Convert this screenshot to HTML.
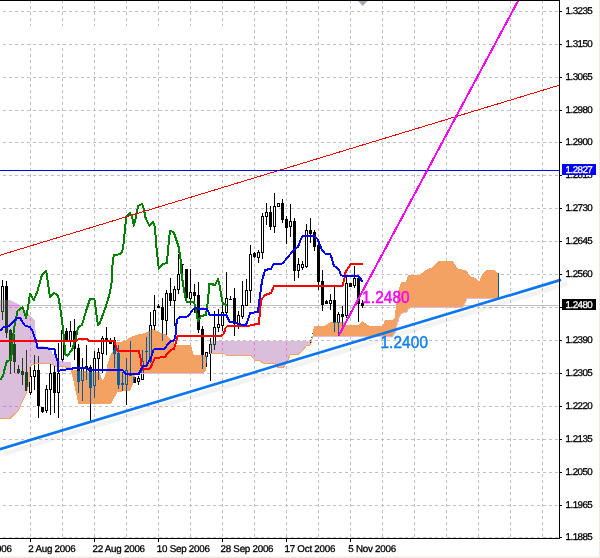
<!DOCTYPE html><html><head><meta charset="utf-8"><title>chart</title><style>
html,body{margin:0;padding:0;background:#fff}body{width:600px;height:558px;overflow:hidden;font-family:"Liberation Sans",sans-serif}
svg{display:block}text{font-family:"Liberation Sans",sans-serif}
.ax{font-size:9.8px;letter-spacing:-0.55px;fill:#000;stroke:#000;stroke-width:0.3px}.dt{font-size:9.8px;letter-spacing:-0.25px;fill:#000;stroke:#000;stroke-width:0.3px}.w{fill:#fff;stroke:#fff}
</style></head><body>
<svg width="600" height="558" viewBox="0 0 600 558">
<rect width="600" height="558" fill="#fff"/>
<defs><clipPath id="cp"><polygon points="0.0,300.0 9.4,300.0 12.5,301.0 18.8,304.4 22.0,307.5 25.0,311.0 30.0,316.0 35.0,320.0 35.5,330.0 36.0,341.0 37.5,346.0 50.0,347.0 52.5,354.0 56.0,354.0 57.0,361.0 70.6,362.0 71.0,367.5 70.0,367.5 55.0,366.0 50.0,363.5 36.0,363.5 30.0,366.0 29.4,380.0 28.0,387.5 26.2,393.8 20.6,405.0 18.8,410.0 10.6,418.0 0.0,418.0"/><polygon points="210.0,341.0 311.0,341.0 311.0,341.0 311.0,342.6 310.7,344.9 306.5,345.4 305.4,346.9 303.2,349.6 302.0,351.0 298.0,354.4 290.0,355.0 288.0,360.0 285.0,365.0 283.0,368.0 278.0,367.5 275.0,363.6 263.0,363.0 260.0,361.0 255.0,360.0 251.0,355.6 226.0,355.0 224.0,353.4 211.0,353.0 210.0,353.5"/></clipPath><clipPath id="co"><polygon points="71.0,370.0 100.0,372.5 100.0,374.0 102.8,381.0 105.6,374.0 107.5,364.0 111.0,354.0 113.8,350.0 116.0,342.5 125.0,341.0 128.8,338.0 136.0,335.0 145.0,333.0 153.0,329.0 158.8,332.0 165.0,334.0 170.0,338.8 173.8,342.5 176.0,345.0 190.6,345.0 192.0,348.8 193.8,355.0 207.0,355.0 207.5,356.0 206.0,366.0 205.6,371.0 203.0,373.0 136.0,373.0 133.5,383.0 130.0,390.6 117.5,392.0 111.0,403.8 78.0,403.8 77.5,400.0 75.6,391.0 73.8,382.5 71.0,371.0"/><polygon points="313.0,336.0 313.0,329.0 314.0,329.0 314.0,326.2 325.0,325.6 330.0,322.5 345.0,322.2 346.0,325.0 358.8,325.0 362.5,321.2 367.0,324.4 370.0,326.2 382.5,326.2 385.0,320.0 394.4,319.4 395.6,308.8 397.0,298.8 398.8,288.8 401.2,282.5 406.0,281.5 408.0,275.0 420.0,274.6 426.0,270.0 433.0,267.0 438.0,261.4 453.0,261.4 458.0,269.0 466.0,270.0 470.0,276.0 475.0,278.0 479.0,282.0 482.0,275.0 486.0,270.4 495.0,270.4 498.0,273.0 498.0,298.5 467.0,298.6 463.0,307.0 411.0,307.0 409.0,308.6 407.0,312.0 401.2,313.5 398.8,318.8 397.0,325.0 395.0,333.0 392.5,336.0"/></clipPath></defs>
<g stroke="#c0c0c0" stroke-width="1" shape-rendering="crispEdges" ><g stroke-dasharray="3 3">
<line x1="3" y1="11.5" x2="559" y2="11.5"/>
<line x1="3" y1="44.5" x2="559" y2="44.5"/>
<line x1="3" y1="77.5" x2="559" y2="77.5"/>
<line x1="3" y1="110.5" x2="559" y2="110.5"/>
<line x1="3" y1="142.5" x2="559" y2="142.5"/>
<line x1="3" y1="175.5" x2="559" y2="175.5"/>
<line x1="3" y1="208.5" x2="559" y2="208.5"/>
<line x1="3" y1="241.5" x2="559" y2="241.5"/>
<line x1="3" y1="274.5" x2="559" y2="274.5"/>
<line x1="3" y1="307.5" x2="559" y2="307.5"/>
<line x1="3" y1="340.5" x2="559" y2="340.5"/>
<line x1="3" y1="373.5" x2="559" y2="373.5"/>
<line x1="3" y1="406.5" x2="559" y2="406.5"/>
<line x1="3" y1="439.5" x2="559" y2="439.5"/>
<line x1="3" y1="472.5" x2="559" y2="472.5"/>
<line x1="3" y1="505.5" x2="559" y2="505.5"/>
<line x1="3" y1="537.5" x2="559" y2="537.5"/>
<line x1="30.5" y1="0" x2="30.5" y2="538"/>
<line x1="62.5" y1="0" x2="62.5" y2="538"/>
<line x1="94.5" y1="0" x2="94.5" y2="538"/>
<line x1="126.5" y1="0" x2="126.5" y2="538"/>
<line x1="158.5" y1="0" x2="158.5" y2="538"/>
<line x1="190.5" y1="0" x2="190.5" y2="538"/>
<line x1="222.5" y1="0" x2="222.5" y2="538"/>
<line x1="254.5" y1="0" x2="254.5" y2="538"/>
<line x1="286.5" y1="0" x2="286.5" y2="538"/>
<line x1="318.5" y1="0" x2="318.5" y2="538"/>
<line x1="350.5" y1="0" x2="350.5" y2="538"/>
<line x1="382.5" y1="0" x2="382.5" y2="538"/>
<line x1="414.5" y1="0" x2="414.5" y2="538"/>
<line x1="446.5" y1="0" x2="446.5" y2="538"/>
<line x1="478.5" y1="0" x2="478.5" y2="538"/>
<line x1="510.5" y1="0" x2="510.5" y2="538"/>
<line x1="542.5" y1="0" x2="542.5" y2="538"/>
</g>
<line x1="0" y1="305.5" x2="560" y2="305.5"/>
</g>
<rect x="0" y="26" width="246" height="18" fill="#fff"/>
<g stroke="rgb(255,192,255)" stroke-width="1" shape-rendering="crispEdges" clip-path="url(#cp)"><g stroke-dasharray="3 3">
<line x1="3" y1="11.5" x2="559" y2="11.5"/>
<line x1="3" y1="44.5" x2="559" y2="44.5"/>
<line x1="3" y1="77.5" x2="559" y2="77.5"/>
<line x1="3" y1="110.5" x2="559" y2="110.5"/>
<line x1="3" y1="142.5" x2="559" y2="142.5"/>
<line x1="3" y1="175.5" x2="559" y2="175.5"/>
<line x1="3" y1="208.5" x2="559" y2="208.5"/>
<line x1="3" y1="241.5" x2="559" y2="241.5"/>
<line x1="3" y1="274.5" x2="559" y2="274.5"/>
<line x1="3" y1="307.5" x2="559" y2="307.5"/>
<line x1="3" y1="340.5" x2="559" y2="340.5"/>
<line x1="3" y1="373.5" x2="559" y2="373.5"/>
<line x1="3" y1="406.5" x2="559" y2="406.5"/>
<line x1="3" y1="439.5" x2="559" y2="439.5"/>
<line x1="3" y1="472.5" x2="559" y2="472.5"/>
<line x1="3" y1="505.5" x2="559" y2="505.5"/>
<line x1="3" y1="537.5" x2="559" y2="537.5"/>
<line x1="30.5" y1="0" x2="30.5" y2="538"/>
<line x1="62.5" y1="0" x2="62.5" y2="538"/>
<line x1="94.5" y1="0" x2="94.5" y2="538"/>
<line x1="126.5" y1="0" x2="126.5" y2="538"/>
<line x1="158.5" y1="0" x2="158.5" y2="538"/>
<line x1="190.5" y1="0" x2="190.5" y2="538"/>
<line x1="222.5" y1="0" x2="222.5" y2="538"/>
<line x1="254.5" y1="0" x2="254.5" y2="538"/>
<line x1="286.5" y1="0" x2="286.5" y2="538"/>
<line x1="318.5" y1="0" x2="318.5" y2="538"/>
<line x1="350.5" y1="0" x2="350.5" y2="538"/>
<line x1="382.5" y1="0" x2="382.5" y2="538"/>
<line x1="414.5" y1="0" x2="414.5" y2="538"/>
<line x1="446.5" y1="0" x2="446.5" y2="538"/>
<line x1="478.5" y1="0" x2="478.5" y2="538"/>
<line x1="510.5" y1="0" x2="510.5" y2="538"/>
<line x1="542.5" y1="0" x2="542.5" y2="538"/>
</g>
<line x1="0" y1="305.5" x2="560" y2="305.5"/>
</g>
<g stroke="#fff" stroke-width="1" shape-rendering="crispEdges" clip-path="url(#co)"><g stroke-dasharray="3 3">
<line x1="3" y1="11.5" x2="559" y2="11.5"/>
<line x1="3" y1="44.5" x2="559" y2="44.5"/>
<line x1="3" y1="77.5" x2="559" y2="77.5"/>
<line x1="3" y1="110.5" x2="559" y2="110.5"/>
<line x1="3" y1="142.5" x2="559" y2="142.5"/>
<line x1="3" y1="175.5" x2="559" y2="175.5"/>
<line x1="3" y1="208.5" x2="559" y2="208.5"/>
<line x1="3" y1="241.5" x2="559" y2="241.5"/>
<line x1="3" y1="274.5" x2="559" y2="274.5"/>
<line x1="3" y1="307.5" x2="559" y2="307.5"/>
<line x1="3" y1="340.5" x2="559" y2="340.5"/>
<line x1="3" y1="373.5" x2="559" y2="373.5"/>
<line x1="3" y1="406.5" x2="559" y2="406.5"/>
<line x1="3" y1="439.5" x2="559" y2="439.5"/>
<line x1="3" y1="472.5" x2="559" y2="472.5"/>
<line x1="3" y1="505.5" x2="559" y2="505.5"/>
<line x1="3" y1="537.5" x2="559" y2="537.5"/>
<line x1="30.5" y1="0" x2="30.5" y2="538"/>
<line x1="62.5" y1="0" x2="62.5" y2="538"/>
<line x1="94.5" y1="0" x2="94.5" y2="538"/>
<line x1="126.5" y1="0" x2="126.5" y2="538"/>
<line x1="158.5" y1="0" x2="158.5" y2="538"/>
<line x1="190.5" y1="0" x2="190.5" y2="538"/>
<line x1="222.5" y1="0" x2="222.5" y2="538"/>
<line x1="254.5" y1="0" x2="254.5" y2="538"/>
<line x1="286.5" y1="0" x2="286.5" y2="538"/>
<line x1="318.5" y1="0" x2="318.5" y2="538"/>
<line x1="350.5" y1="0" x2="350.5" y2="538"/>
<line x1="382.5" y1="0" x2="382.5" y2="538"/>
<line x1="414.5" y1="0" x2="414.5" y2="538"/>
<line x1="446.5" y1="0" x2="446.5" y2="538"/>
<line x1="478.5" y1="0" x2="478.5" y2="538"/>
<line x1="510.5" y1="0" x2="510.5" y2="538"/>
<line x1="542.5" y1="0" x2="542.5" y2="538"/>
</g>
<line x1="0" y1="305.5" x2="560" y2="305.5"/>
</g>
<g shape-rendering="crispEdges" stroke="none">
<rect x="2" y="280" width="1" height="40" fill="#000"/>
<rect x="1" y="286" width="3" height="26" fill="#000"/><rect x="2" y="287" width="1" height="24" fill="#fff"/>
<rect x="6" y="281" width="1" height="57" fill="#000"/>
<rect x="5" y="286" width="3" height="47" fill="#000"/>
<rect x="10" y="329" width="1" height="45" fill="#000"/>
<rect x="9" y="330" width="3" height="31" fill="#000"/>
<rect x="14" y="334" width="1" height="39" fill="#000"/>
<rect x="13" y="344" width="3" height="18" fill="#000"/>
<rect x="18" y="365" width="1" height="9" fill="#000"/>
<rect x="17" y="369" width="3" height="4" fill="#000"/>
<rect x="22" y="358" width="1" height="27" fill="#000"/>
<rect x="21" y="371" width="3" height="4" fill="#000"/>
<rect x="26" y="350" width="1" height="42" fill="#000"/>
<rect x="25" y="372" width="3" height="19" fill="#000"/>
<rect x="30" y="367" width="1" height="28" fill="#000"/>
<rect x="29" y="376" width="3" height="17" fill="#000"/><rect x="30" y="377" width="1" height="15" fill="#fff"/>
<rect x="34" y="355" width="1" height="35" fill="#000"/>
<rect x="33" y="370" width="3" height="7" fill="#000"/><rect x="34" y="371" width="1" height="5" fill="#fff"/>
<rect x="38" y="356" width="1" height="62" fill="#000"/>
<rect x="37" y="370" width="3" height="36" fill="#000"/>
<rect x="42" y="407" width="1" height="6" fill="#000"/>
<rect x="41" y="407" width="3" height="5" fill="#000"/>
<rect x="46" y="385" width="1" height="28" fill="#000"/>
<rect x="45" y="389" width="3" height="22" fill="#000"/><rect x="46" y="390" width="1" height="20" fill="#fff"/>
<rect x="50" y="364" width="1" height="51" fill="#000"/>
<rect x="49" y="373" width="3" height="17" fill="#000"/><rect x="50" y="374" width="1" height="15" fill="#fff"/>
<rect x="54" y="366" width="1" height="47" fill="#000"/>
<rect x="53" y="372" width="3" height="21" fill="#000"/>
<rect x="58" y="343" width="1" height="75" fill="#000"/>
<rect x="57" y="373" width="3" height="20" fill="#000"/><rect x="58" y="374" width="1" height="18" fill="#fff"/>
<rect x="62" y="328" width="1" height="33" fill="#000"/>
<rect x="61" y="330" width="3" height="30" fill="#000"/><rect x="62" y="331" width="1" height="28" fill="#fff"/>
<rect x="66" y="328" width="1" height="13" fill="#000"/>
<rect x="65" y="331" width="3" height="10" fill="#000"/>
<rect x="70" y="321" width="1" height="26" fill="#000"/>
<rect x="69" y="331" width="3" height="10" fill="#000"/><rect x="70" y="332" width="1" height="8" fill="#fff"/>
<rect x="74" y="319" width="1" height="41" fill="#000"/>
<rect x="73" y="331" width="3" height="18" fill="#000"/>
<rect x="78" y="344" width="1" height="49" fill="#000"/>
<rect x="77" y="348" width="3" height="34" fill="#000"/>
<rect x="82" y="358" width="1" height="43" fill="#000"/>
<rect x="81" y="368" width="3" height="13" fill="#000"/><rect x="82" y="369" width="1" height="11" fill="#fff"/>
<rect x="86" y="345" width="1" height="35" fill="#000"/>
<rect x="85" y="366" width="3" height="2" fill="#000"/>
<rect x="90" y="365" width="1" height="56" fill="#000"/>
<rect x="89" y="367" width="3" height="21" fill="#000"/>
<rect x="94" y="351" width="1" height="47" fill="#000"/>
<rect x="93" y="358" width="3" height="28" fill="#000"/><rect x="94" y="359" width="1" height="26" fill="#fff"/>
<rect x="98" y="348" width="1" height="32" fill="#000"/>
<rect x="97" y="352" width="3" height="7" fill="#000"/><rect x="98" y="353" width="1" height="5" fill="#fff"/>
<rect x="102" y="336" width="1" height="37" fill="#000"/>
<rect x="101" y="338" width="3" height="16" fill="#000"/><rect x="102" y="339" width="1" height="14" fill="#fff"/>
<rect x="106" y="327" width="1" height="28" fill="#000"/>
<rect x="105" y="338" width="3" height="3" fill="#000"/>
<rect x="110" y="338" width="1" height="6" fill="#000"/>
<rect x="109" y="340" width="3" height="4" fill="#000"/>
<rect x="114" y="337" width="1" height="31" fill="#000"/>
<rect x="113" y="340" width="3" height="14" fill="#000"/>
<rect x="118" y="345" width="1" height="44" fill="#000"/>
<rect x="117" y="353" width="3" height="32" fill="#000"/>
<rect x="122" y="372" width="1" height="19" fill="#000"/>
<rect x="121" y="383" width="3" height="2" fill="#000"/>
<rect x="126" y="358" width="1" height="47" fill="#000"/>
<rect x="125" y="370" width="3" height="15" fill="#000"/><rect x="126" y="371" width="1" height="13" fill="#fff"/>
<rect x="130" y="341" width="1" height="35" fill="#000"/>
<rect x="129" y="374" width="3" height="2" fill="#000"/>
<rect x="134" y="377" width="1" height="6" fill="#000"/>
<rect x="133" y="377" width="3" height="6" fill="#000"/>
<rect x="138" y="376" width="1" height="9" fill="#000"/>
<rect x="137" y="378" width="3" height="4" fill="#000"/><rect x="138" y="379" width="1" height="2" fill="#fff"/>
<rect x="142" y="350" width="1" height="30" fill="#000"/>
<rect x="141" y="361" width="3" height="19" fill="#000"/><rect x="142" y="362" width="1" height="17" fill="#fff"/>
<rect x="146" y="337" width="1" height="28" fill="#000"/>
<rect x="145" y="351" width="3" height="1" fill="#000"/>
<rect x="150" y="312" width="1" height="51" fill="#000"/>
<rect x="149" y="325" width="3" height="37" fill="#000"/><rect x="150" y="326" width="1" height="35" fill="#fff"/>
<rect x="154" y="295" width="1" height="35" fill="#000"/>
<rect x="153" y="310" width="3" height="16" fill="#000"/><rect x="154" y="311" width="1" height="14" fill="#fff"/>
<rect x="158" y="304" width="1" height="4" fill="#000"/>
<rect x="157" y="306" width="3" height="2" fill="#000"/>
<rect x="162" y="298" width="1" height="43" fill="#000"/>
<rect x="161" y="307" width="3" height="13" fill="#000"/>
<rect x="166" y="290" width="1" height="45" fill="#000"/>
<rect x="165" y="293" width="3" height="28" fill="#000"/><rect x="166" y="294" width="1" height="26" fill="#fff"/>
<rect x="170" y="278" width="1" height="28" fill="#000"/>
<rect x="169" y="293" width="3" height="8" fill="#000"/>
<rect x="174" y="286" width="1" height="40" fill="#000"/>
<rect x="173" y="289" width="3" height="12" fill="#000"/><rect x="174" y="290" width="1" height="10" fill="#fff"/>
<rect x="178" y="254" width="1" height="40" fill="#000"/>
<rect x="177" y="274" width="3" height="16" fill="#000"/><rect x="178" y="275" width="1" height="14" fill="#fff"/>
<rect x="182" y="264" width="1" height="10" fill="#000"/>
<rect x="181" y="264" width="3" height="1" fill="#000"/>
<rect x="186" y="269" width="1" height="29" fill="#000"/>
<rect x="185" y="269" width="3" height="29" fill="#000"/>
<rect x="190" y="269" width="1" height="36" fill="#000"/>
<rect x="189" y="292" width="3" height="7" fill="#000"/><rect x="190" y="293" width="1" height="5" fill="#fff"/>
<rect x="194" y="284" width="1" height="29" fill="#000"/>
<rect x="193" y="292" width="3" height="4" fill="#000"/>
<rect x="198" y="282" width="1" height="51" fill="#000"/>
<rect x="197" y="295" width="3" height="35" fill="#000"/>
<rect x="202" y="326" width="1" height="43" fill="#000"/>
<rect x="201" y="329" width="3" height="26" fill="#000"/>
<rect x="206" y="352" width="1" height="15" fill="#000"/>
<rect x="205" y="352" width="3" height="5" fill="#000"/><rect x="206" y="353" width="1" height="3" fill="#fff"/>
<rect x="210" y="338" width="1" height="43" fill="#000"/>
<rect x="209" y="344" width="3" height="10" fill="#000"/><rect x="210" y="345" width="1" height="8" fill="#fff"/>
<rect x="214" y="311" width="1" height="39" fill="#000"/>
<rect x="213" y="327" width="3" height="18" fill="#000"/><rect x="214" y="328" width="1" height="16" fill="#fff"/>
<rect x="218" y="309" width="1" height="23" fill="#000"/>
<rect x="217" y="324" width="3" height="4" fill="#000"/><rect x="218" y="325" width="1" height="2" fill="#fff"/>
<rect x="222" y="305" width="1" height="26" fill="#000"/>
<rect x="221" y="312" width="3" height="14" fill="#000"/><rect x="222" y="313" width="1" height="12" fill="#fff"/>
<rect x="226" y="272" width="1" height="43" fill="#000"/>
<rect x="225" y="298" width="3" height="15" fill="#000"/><rect x="226" y="299" width="1" height="13" fill="#fff"/>
<rect x="230" y="296" width="1" height="4" fill="#000"/>
<rect x="229" y="299" width="3" height="1" fill="#000"/>
<rect x="234" y="288" width="1" height="48" fill="#000"/>
<rect x="233" y="298" width="3" height="26" fill="#000"/>
<rect x="238" y="311" width="1" height="18" fill="#000"/>
<rect x="237" y="315" width="3" height="10" fill="#000"/><rect x="238" y="316" width="1" height="8" fill="#fff"/>
<rect x="242" y="281" width="1" height="38" fill="#000"/>
<rect x="241" y="305" width="3" height="12" fill="#000"/><rect x="242" y="306" width="1" height="10" fill="#fff"/>
<rect x="246" y="279" width="1" height="27" fill="#000"/>
<rect x="245" y="290" width="3" height="16" fill="#000"/><rect x="246" y="291" width="1" height="14" fill="#fff"/>
<rect x="250" y="245" width="1" height="58" fill="#000"/>
<rect x="249" y="254" width="3" height="37" fill="#000"/><rect x="250" y="255" width="1" height="35" fill="#fff"/>
<rect x="254" y="252" width="1" height="6" fill="#000"/>
<rect x="253" y="253" width="3" height="4" fill="#000"/>
<rect x="258" y="250" width="1" height="13" fill="#000"/>
<rect x="257" y="252" width="3" height="6" fill="#000"/><rect x="258" y="253" width="1" height="4" fill="#fff"/>
<rect x="262" y="213" width="1" height="46" fill="#000"/>
<rect x="261" y="216" width="3" height="37" fill="#000"/><rect x="262" y="217" width="1" height="35" fill="#fff"/>
<rect x="266" y="203" width="1" height="22" fill="#000"/>
<rect x="265" y="212" width="3" height="5" fill="#000"/><rect x="266" y="213" width="1" height="3" fill="#fff"/>
<rect x="270" y="206" width="1" height="24" fill="#000"/>
<rect x="269" y="212" width="3" height="15" fill="#000"/>
<rect x="274" y="193" width="1" height="40" fill="#000"/>
<rect x="273" y="206" width="3" height="21" fill="#000"/><rect x="274" y="207" width="1" height="19" fill="#fff"/>
<rect x="278" y="203" width="1" height="4" fill="#000"/>
<rect x="277" y="203" width="3" height="4" fill="#000"/><rect x="278" y="204" width="1" height="2" fill="#fff"/>
<rect x="282" y="199" width="1" height="24" fill="#000"/>
<rect x="281" y="203" width="3" height="17" fill="#000"/>
<rect x="286" y="216" width="1" height="28" fill="#000"/>
<rect x="285" y="219" width="3" height="9" fill="#000"/>
<rect x="290" y="204" width="1" height="33" fill="#000"/>
<rect x="289" y="221" width="3" height="6" fill="#000"/><rect x="290" y="222" width="1" height="4" fill="#fff"/>
<rect x="294" y="218" width="1" height="63" fill="#000"/>
<rect x="293" y="221" width="3" height="50" fill="#000"/>
<rect x="298" y="258" width="1" height="20" fill="#000"/>
<rect x="297" y="264" width="3" height="7" fill="#000"/><rect x="298" y="265" width="1" height="5" fill="#fff"/>
<rect x="302" y="261" width="1" height="9" fill="#000"/>
<rect x="301" y="264" width="3" height="4" fill="#000"/><rect x="302" y="265" width="1" height="2" fill="#fff"/>
<rect x="306" y="224" width="1" height="44" fill="#000"/>
<rect x="305" y="230" width="3" height="37" fill="#000"/><rect x="306" y="231" width="1" height="35" fill="#fff"/>
<rect x="310" y="218" width="1" height="25" fill="#000"/>
<rect x="309" y="230" width="3" height="4" fill="#000"/>
<rect x="314" y="230" width="1" height="21" fill="#000"/>
<rect x="313" y="232" width="3" height="15" fill="#000"/>
<rect x="318" y="244" width="1" height="46" fill="#000"/>
<rect x="317" y="245" width="3" height="37" fill="#000"/>
<rect x="322" y="270" width="1" height="41" fill="#000"/>
<rect x="321" y="281" width="3" height="24" fill="#000"/>
<rect x="326" y="300" width="1" height="4" fill="#000"/>
<rect x="325" y="301" width="3" height="3" fill="#000"/>
<rect x="330" y="294" width="1" height="16" fill="#000"/>
<rect x="329" y="300" width="3" height="4" fill="#000"/><rect x="330" y="301" width="1" height="2" fill="#fff"/>
<rect x="334" y="287" width="1" height="45" fill="#000"/>
<rect x="333" y="300" width="3" height="23" fill="#000"/>
<rect x="338" y="312" width="1" height="24" fill="#000"/>
<rect x="337" y="314" width="3" height="9" fill="#000"/><rect x="338" y="315" width="1" height="7" fill="#fff"/>
<rect x="342" y="306" width="1" height="20" fill="#000"/>
<rect x="341" y="314" width="3" height="3" fill="#000"/>
<rect x="346" y="276" width="1" height="42" fill="#000"/>
<rect x="345" y="283" width="3" height="33" fill="#000"/><rect x="346" y="284" width="1" height="31" fill="#fff"/>
<rect x="350" y="283" width="1" height="4" fill="#000"/>
<rect x="349" y="283" width="3" height="4" fill="#000"/>
<rect x="354" y="266" width="1" height="22" fill="#000"/>
<rect x="353" y="278" width="3" height="8" fill="#000"/><rect x="354" y="279" width="1" height="6" fill="#fff"/>
<rect x="358" y="277" width="1" height="45" fill="#000"/>
<rect x="357" y="278" width="3" height="26" fill="#000"/>
<rect x="362" y="300" width="1" height="8" fill="#000"/>
<rect x="361" y="303" width="3" height="3" fill="#000"/>
</g>
<defs><pattern id="po" width="4" height="4" patternUnits="userSpaceOnUse"><rect width="4" height="4" fill="rgb(11,91,159)"/><rect x="1" y="0" width="1" height="1" fill="rgb(13,109,141)"/><rect x="3" y="2" width="1" height="1" fill="rgb(13,109,141)"/></pattern></defs>
<g style="mix-blend-mode:difference" shape-rendering="crispEdges">
<polygon points="0.0,300.0 9.4,300.0 12.5,301.0 18.8,304.4 22.0,307.5 25.0,311.0 30.0,316.0 35.0,320.0 35.5,330.0 36.0,341.0 37.5,346.0 50.0,347.0 52.5,354.0 56.0,354.0 57.0,361.0 70.6,362.0 71.0,367.5 70.0,367.5 55.0,366.0 50.0,363.5 36.0,363.5 30.0,366.0 29.4,380.0 28.0,387.5 26.2,393.8 20.6,405.0 18.8,410.0 10.6,418.0 0.0,418.0" fill="rgb(37,65,35)"/>
<polygon points="71.0,370.0 100.0,372.5 100.0,374.0 102.8,381.0 105.6,374.0 107.5,364.0 111.0,354.0 113.8,350.0 116.0,342.5 125.0,341.0 128.8,338.0 136.0,335.0 145.0,333.0 153.0,329.0 158.8,332.0 165.0,334.0 170.0,338.8 173.8,342.5 176.0,345.0 190.6,345.0 192.0,348.8 193.8,355.0 207.0,355.0 207.5,356.0 206.0,366.0 205.6,371.0 203.0,373.0 136.0,373.0 133.5,383.0 130.0,390.6 117.5,392.0 111.0,403.8 78.0,403.8 77.5,400.0 75.6,391.0 73.8,382.5 71.0,371.0" fill="url(#po)"/>
<polygon points="210.0,341.0 311.0,341.0 311.0,341.0 311.0,342.6 310.7,344.9 306.5,345.4 305.4,346.9 303.2,349.6 302.0,351.0 298.0,354.4 290.0,355.0 288.0,360.0 285.0,365.0 283.0,368.0 278.0,367.5 275.0,363.6 263.0,363.0 260.0,361.0 255.0,360.0 251.0,355.6 226.0,355.0 224.0,353.4 211.0,353.0 210.0,353.5" fill="rgb(37,65,35)"/>
<polygon points="313.0,336.0 313.0,329.0 314.0,329.0 314.0,326.2 325.0,325.6 330.0,322.5 345.0,322.2 346.0,325.0 358.8,325.0 362.5,321.2 367.0,324.4 370.0,326.2 382.5,326.2 385.0,320.0 394.4,319.4 395.6,308.8 397.0,298.8 398.8,288.8 401.2,282.5 406.0,281.5 408.0,275.0 420.0,274.6 426.0,270.0 433.0,267.0 438.0,261.4 453.0,261.4 458.0,269.0 466.0,270.0 470.0,276.0 475.0,278.0 479.0,282.0 482.0,275.0 486.0,270.4 495.0,270.4 498.0,273.0 498.0,298.5 467.0,298.6 463.0,307.0 411.0,307.0 409.0,308.6 407.0,312.0 401.2,313.5 398.8,318.8 397.0,325.0 395.0,333.0 392.5,336.0" fill="url(#po)"/>
</g>
<polyline points="0.0,418.0 10.6,418.0 18.8,410.0 20.6,405.0 26.2,393.8 28.0,387.5 29.4,380.0 30.0,366.0 36.0,363.5 50.0,363.5 55.0,366.0 70.0,367.5 72.0,371.0" fill="none" stroke="rgb(244,164,96)" stroke-width="1" shape-rendering="crispEdges"/>
<polyline points="210.0,353.5 211.0,353.0 224.0,353.4 226.0,355.0 251.0,355.6 255.0,360.0 260.0,361.0 263.0,363.0 275.0,363.6 278.0,367.5 283.0,368.0 285.0,365.0 288.0,360.0 290.0,355.0 298.0,354.4 302.0,351.0 303.2,349.6 305.4,346.9 306.5,345.4 310.7,344.9 311.0,342.6 311.0,341.0" fill="none" stroke="rgb(244,164,96)" stroke-width="1" shape-rendering="crispEdges"/>
<polyline points="498.0,298.5 467.0,298.6 463.0,307.0 411.0,307.0 409.0,308.6 407.0,312.0 401.2,313.5 398.8,318.8 397.0,325.0 395.0,333.0 392.5,336.0" fill="none" stroke="rgb(218,190,220)" stroke-width="1" shape-rendering="crispEdges"/>
<polyline points="313.0,336.5 393.0,336.5" fill="none" stroke="rgb(218,190,220)" stroke-width="1" shape-rendering="crispEdges"/>
<polyline points="136.0,373.5 203.0,373.5" fill="none" stroke="rgb(218,190,220)" stroke-width="1" shape-rendering="crispEdges"/>
<line x1="498.5" y1="273" x2="498.5" y2="298" stroke="rgb(11,91,159)" shape-rendering="crispEdges"/>
<polyline points="310.7,344.9 311.0,342.6 311.5,340.4 312.2,338.3 313.0,336.0" fill="none" stroke="rgb(244,164,96)" stroke-width="1" shape-rendering="crispEdges"/>
<g shape-rendering="crispEdges"><rect x="312" y="333" width="1" height="1" fill="rgb(11,91,159)"/><rect x="311" y="337" width="1" height="1" fill="rgb(11,91,159)"/><rect x="310" y="340" width="1" height="1" fill="rgb(0,128,0)"/><rect x="310" y="342" width="1" height="1" fill="#000"/></g>
<polyline points="0.0,380.0 3.0,376.0 5.0,367.5 7.0,361.0 10.6,360.0 12.0,352.5 12.5,342.5 13.8,330.0 15.6,320.0 17.5,311.0 20.0,308.8 22.5,307.5 24.4,312.5 26.2,318.0 28.0,307.5 30.0,293.8 33.8,300.0 37.5,291.0 41.9,275.0 46.2,270.6 48.0,283.8 50.0,297.0 54.4,293.0 58.0,295.6 60.0,306.0 61.9,320.0 63.8,336.0 64.4,342.5 65.0,354.0 67.5,355.6 72.0,350.0 75.6,339.0 78.0,327.5 82.0,325.0 86.0,311.0 90.0,299.0 94.4,299.0 96.0,311.0 98.0,325.6 100.0,322.5 106.0,306.0 110.0,292.5 112.0,280.0 112.5,264.8 113.8,255.0 118.8,254.4 122.0,252.5 123.8,242.5 125.0,228.8 126.2,217.0 130.0,213.0 132.0,216.2 133.8,225.6 135.6,218.8 138.0,206.2 142.0,203.8 143.8,208.8 145.6,218.0 149.4,225.6 153.0,222.0 155.0,227.5 156.2,245.0 158.8,268.8 162.5,264.0 167.0,263.0 168.0,250.0 170.0,230.6 173.8,232.5 176.0,238.8 178.8,247.5 180.6,260.0 181.0,270.0 183.0,283.8 185.6,298.8 187.0,302.5 193.8,302.0 195.6,307.5 197.0,316.0 198.0,321.0 201.0,316.0 206.0,315.0 208.0,300.0 209.3,283.7 212.5,283.7 213.3,285.0 215.0,285.0 218.0,278.8 220.0,287.5 222.0,300.0 223.0,303.8 227.0,305.0" fill="none" stroke="rgb(0,128,0)" stroke-width="2" stroke-linejoin="round" shape-rendering="crispEdges"/>
<polyline points="0.0,341.0 76.5,340.6 79.5,338.5 86.0,338.5 88.8,340.6 114.2,340.6 117.5,350.8 138.8,350.8 140.5,358.0 141.9,369.6 149.0,369.0 150.8,367.0 154.9,358.0 165.0,357.0 168.0,352.5 171.0,350.0 174.0,348.8 176.0,342.5 177.5,336.0 221.0,336.0 223.8,333.8 225.6,328.0 227.5,326.0 248.8,326.0 252.0,324.8 258.8,324.0 259.4,317.5 260.0,312.5 261.0,300.0 265.0,295.0 271.0,293.0 274.0,286.0 342.5,286.0 344.4,278.8 345.6,272.0 348.8,267.0 351.0,263.8 362.5,263.8" fill="none" stroke="rgb(255,0,0)" stroke-width="2" stroke-linejoin="round" shape-rendering="crispEdges"/>
<polyline points="0.0,331.0 3.0,327.5 7.5,327.0 12.5,322.5 18.0,317.5 20.0,318.0 25.0,325.6 30.0,327.0 32.5,331.0 36.0,341.0 37.5,348.0 54.4,348.8 55.6,355.0 57.5,361.0 58.0,371.0 62.5,370.0 70.0,369.0 75.0,368.0 86.0,367.8 88.8,369.8 122.6,370.0 125.8,373.9 138.8,373.9 141.4,368.7 142.8,366.4 146.4,366.0 148.6,362.0 150.8,358.0 153.5,349.9 154.9,349.0 165.0,348.5 167.0,345.0 170.6,341.0 174.0,340.6 175.6,335.0 176.0,326.0 177.5,318.8 180.0,317.0 187.0,316.5 190.0,314.0 192.5,310.0 195.0,307.5 198.8,308.8 206.7,309.0 208.4,311.7 209.6,314.6 226.5,314.9 228.0,318.8 230.0,322.0 235.0,322.5 238.8,324.4 246.0,324.8 248.0,320.0 250.0,313.0 258.0,312.0 259.0,302.5 260.6,291.0 262.0,281.0 265.0,270.0 271.0,268.8 273.8,264.0 282.5,263.5 287.5,257.5 293.8,250.0 295.0,248.8 298.0,247.0 300.6,240.0 302.5,236.0 313.8,235.6 317.5,239.0 320.0,245.0 322.0,250.0 325.0,253.5 330.0,253.8 332.0,258.8 333.8,265.6 338.8,269.4 341.0,275.0 343.0,276.2 358.8,276.2 360.6,278.8 362.5,282.0" fill="none" stroke="rgb(0,0,255)" stroke-width="2" stroke-linejoin="round" shape-rendering="crispEdges"/>
<line x1="0" y1="255.2" x2="559" y2="85.3" stroke="rgb(255,0,0)" stroke-width="1" shape-rendering="crispEdges"/>
<line x1="0" y1="170.5" x2="559" y2="170.5" stroke="rgb(0,0,255)" stroke-width="1" shape-rendering="crispEdges"/>
<line x1="5" y1="453.3" x2="565" y2="284.3" stroke="#f3f3f4" stroke-width="4.4" stroke-linecap="round" style="mix-blend-mode:multiply"/>
<line x1="0" y1="449.1" x2="560" y2="280.1" stroke="rgb(12,118,240)" stroke-width="2.7" stroke-linecap="round"/>
<line x1="338.8" y1="335.5" x2="518.5" y2="0" stroke="rgb(255,0,255)" stroke-width="2" shape-rendering="crispEdges"/>
<text transform="translate(362.1,303.3) scale(1,1.12)" x="0" y="0" font-size="15.3px" letter-spacing="0.15" fill="rgb(255,0,255)" stroke="rgb(255,0,255)" stroke-width="0.45">1.2480</text>
<text transform="translate(380.4,347.9) scale(1,1.13)" x="0" y="0" font-size="15.3px" letter-spacing="0.15" fill="rgb(18,128,248)" stroke="rgb(18,128,248)" stroke-width="0.45">1.2400</text>
<polygon points="358,1 367.5,1 362.7,6" fill="#a8a8b4"/>
<g shape-rendering="crispEdges" fill="#000">
<rect x="0" y="0" width="560" height="1"/>
<rect x="559" y="0" width="1" height="539"/>
<rect x="0" y="538" width="560" height="1"/>
<rect x="560" y="11" width="2" height="1"/>
<rect x="560" y="44" width="2" height="1"/>
<rect x="560" y="77" width="2" height="1"/>
<rect x="560" y="110" width="2" height="1"/>
<rect x="560" y="142" width="2" height="1"/>
<rect x="560" y="175" width="2" height="1"/>
<rect x="560" y="208" width="2" height="1"/>
<rect x="560" y="241" width="2" height="1"/>
<rect x="560" y="274" width="2" height="1"/>
<rect x="560" y="307" width="2" height="1"/>
<rect x="560" y="340" width="2" height="1"/>
<rect x="560" y="373" width="2" height="1"/>
<rect x="560" y="406" width="2" height="1"/>
<rect x="560" y="439" width="2" height="1"/>
<rect x="560" y="472" width="2" height="1"/>
<rect x="560" y="505" width="2" height="1"/>
<rect x="560" y="537" width="2" height="1"/>
<rect x="30" y="539" width="1" height="3"/>
<rect x="94" y="539" width="1" height="3"/>
<rect x="158" y="539" width="1" height="3"/>
<rect x="222" y="539" width="1" height="3"/>
<rect x="286" y="539" width="1" height="3"/>
<rect x="350" y="539" width="1" height="3"/>
</g>
<text class="ax" x="565.6" y="14" transform="rotate(0.03 565.6 14)">1.3235</text>
<text class="ax" x="565.6" y="47" transform="rotate(0.03 565.6 47)">1.3150</text>
<text class="ax" x="565.6" y="80" transform="rotate(0.03 565.6 80)">1.3065</text>
<text class="ax" x="565.6" y="113" transform="rotate(0.03 565.6 113)">1.2980</text>
<text class="ax" x="565.6" y="145" transform="rotate(0.03 565.6 145)">1.2900</text>
<text class="ax" x="565.6" y="178" transform="rotate(0.03 565.6 178)">1.2815</text>
<text class="ax" x="565.6" y="211" transform="rotate(0.03 565.6 211)">1.2730</text>
<text class="ax" x="565.6" y="244" transform="rotate(0.03 565.6 244)">1.2645</text>
<text class="ax" x="565.6" y="277" transform="rotate(0.03 565.6 277)">1.2560</text>
<text class="ax" x="565.6" y="343" transform="rotate(0.03 565.6 343)">1.2390</text>
<text class="ax" x="565.6" y="376" transform="rotate(0.03 565.6 376)">1.2305</text>
<text class="ax" x="565.6" y="409" transform="rotate(0.03 565.6 409)">1.2220</text>
<text class="ax" x="565.6" y="442" transform="rotate(0.03 565.6 442)">1.2135</text>
<text class="ax" x="565.6" y="475" transform="rotate(0.03 565.6 475)">1.2050</text>
<text class="ax" x="565.6" y="508" transform="rotate(0.03 565.6 508)">1.1965</text>
<text class="ax" x="565.6" y="540" transform="rotate(0.03 565.6 540)">1.1885</text>
<rect x="562" y="164" width="34" height="11" fill="rgb(0,0,255)" shape-rendering="crispEdges"/>
<text class="ax w" x="565.6" y="173" transform="rotate(0.03 565.6 173)">1.2827</text>
<rect x="562" y="299" width="34" height="11" fill="#000" shape-rendering="crispEdges"/>
<text class="ax w" x="565.6" y="308" transform="rotate(0.03 565.6 308)">1.2480</text>
<text class="dt" x="11.6" y="552" text-anchor="end" transform="rotate(0.03 11.6 552)">2 Jul 2006</text>
<text class="dt" x="28.3" y="552" transform="rotate(0.03 28.3 552)">2 Aug 2006</text>
<text class="dt" x="92.5" y="552" transform="rotate(0.03 92.5 552)">22 Aug 2006</text>
<text class="dt" x="156.8" y="552" transform="rotate(0.03 156.8 552)">10 Sep 2006</text>
<text class="dt" x="220.5" y="552" transform="rotate(0.03 220.5 552)">28 Sep 2006</text>
<text class="dt" x="284.5" y="552" transform="rotate(0.03 284.5 552)">17 Oct 2006</text>
<text class="dt" x="348.3" y="552" transform="rotate(0.03 348.3 552)">5 Nov 2006</text>
<rect x="0" y="556" width="600" height="1" fill="#fbf6f2"/><rect x="0" y="557" width="600" height="1" fill="#f4e9e1"/><rect x="599" y="0" width="1" height="558" fill="#f4e9e1"/>
</svg></body></html>
